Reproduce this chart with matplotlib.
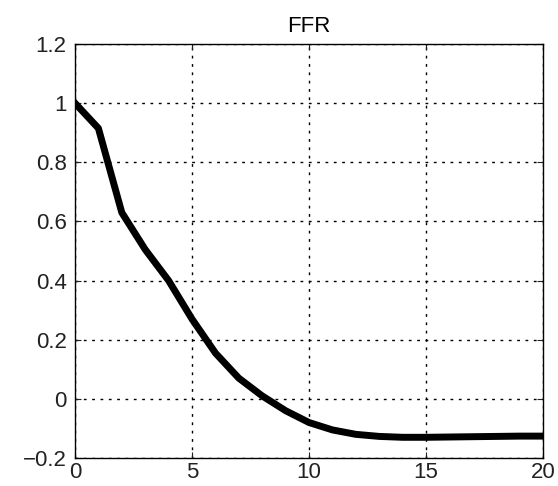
import numpy as np
import matplotlib
matplotlib.use("Agg")
from matplotlib import pyplot as plt

# impulse response of the funds rate
horizon = np.arange(0, 21)
ffr = [1.0, 0.915, 0.63, 0.505, 0.40, 0.27, 0.155, 0.07, 0.01, -0.04,
       -0.08, -0.105, -0.12, -0.127, -0.13, -0.13, -0.129, -0.128,
       -0.127, -0.126, -0.126]

plt.rcParams['font.family'] = ['Liberation Sans', 'DejaVu Sans']

fig = plt.figure(figsize=(5.58, 4.86), dpi=100)
ax = fig.add_axes([75/558, 1 - 458/486, (543-75)/558, (458-44)/486])

ax.plot(horizon, ffr, color='black', linewidth=5, solid_joinstyle='round')

ax.set_xlim(0, 20)
ax.set_ylim(-0.2, 1.2)
ax.set_xticks([0, 5, 10, 15, 20])
ax.set_yticks([-0.2, 0, 0.2, 0.4, 0.6, 0.8, 1, 1.2])
ax.set_yticklabels(['\u22120.2', '0', '0.2', '0.4', '0.6', '0.8', '1', '1.2'])
ax.grid(True, color='black', linestyle=(0, (2, 4)), linewidth=1.0)
ax.tick_params(direction='in', top=True, right=True, length=4, labelsize=16,
               colors='#222222')
ax.tick_params(axis='x', pad=3)
ax.tick_params(axis='y', pad=6)
for s in ax.spines.values():
    s.set_linewidth(1.0)
ax.set_title('FFR', fontsize=16, pad=9)

fig.savefig("out.png", dpi=100)
